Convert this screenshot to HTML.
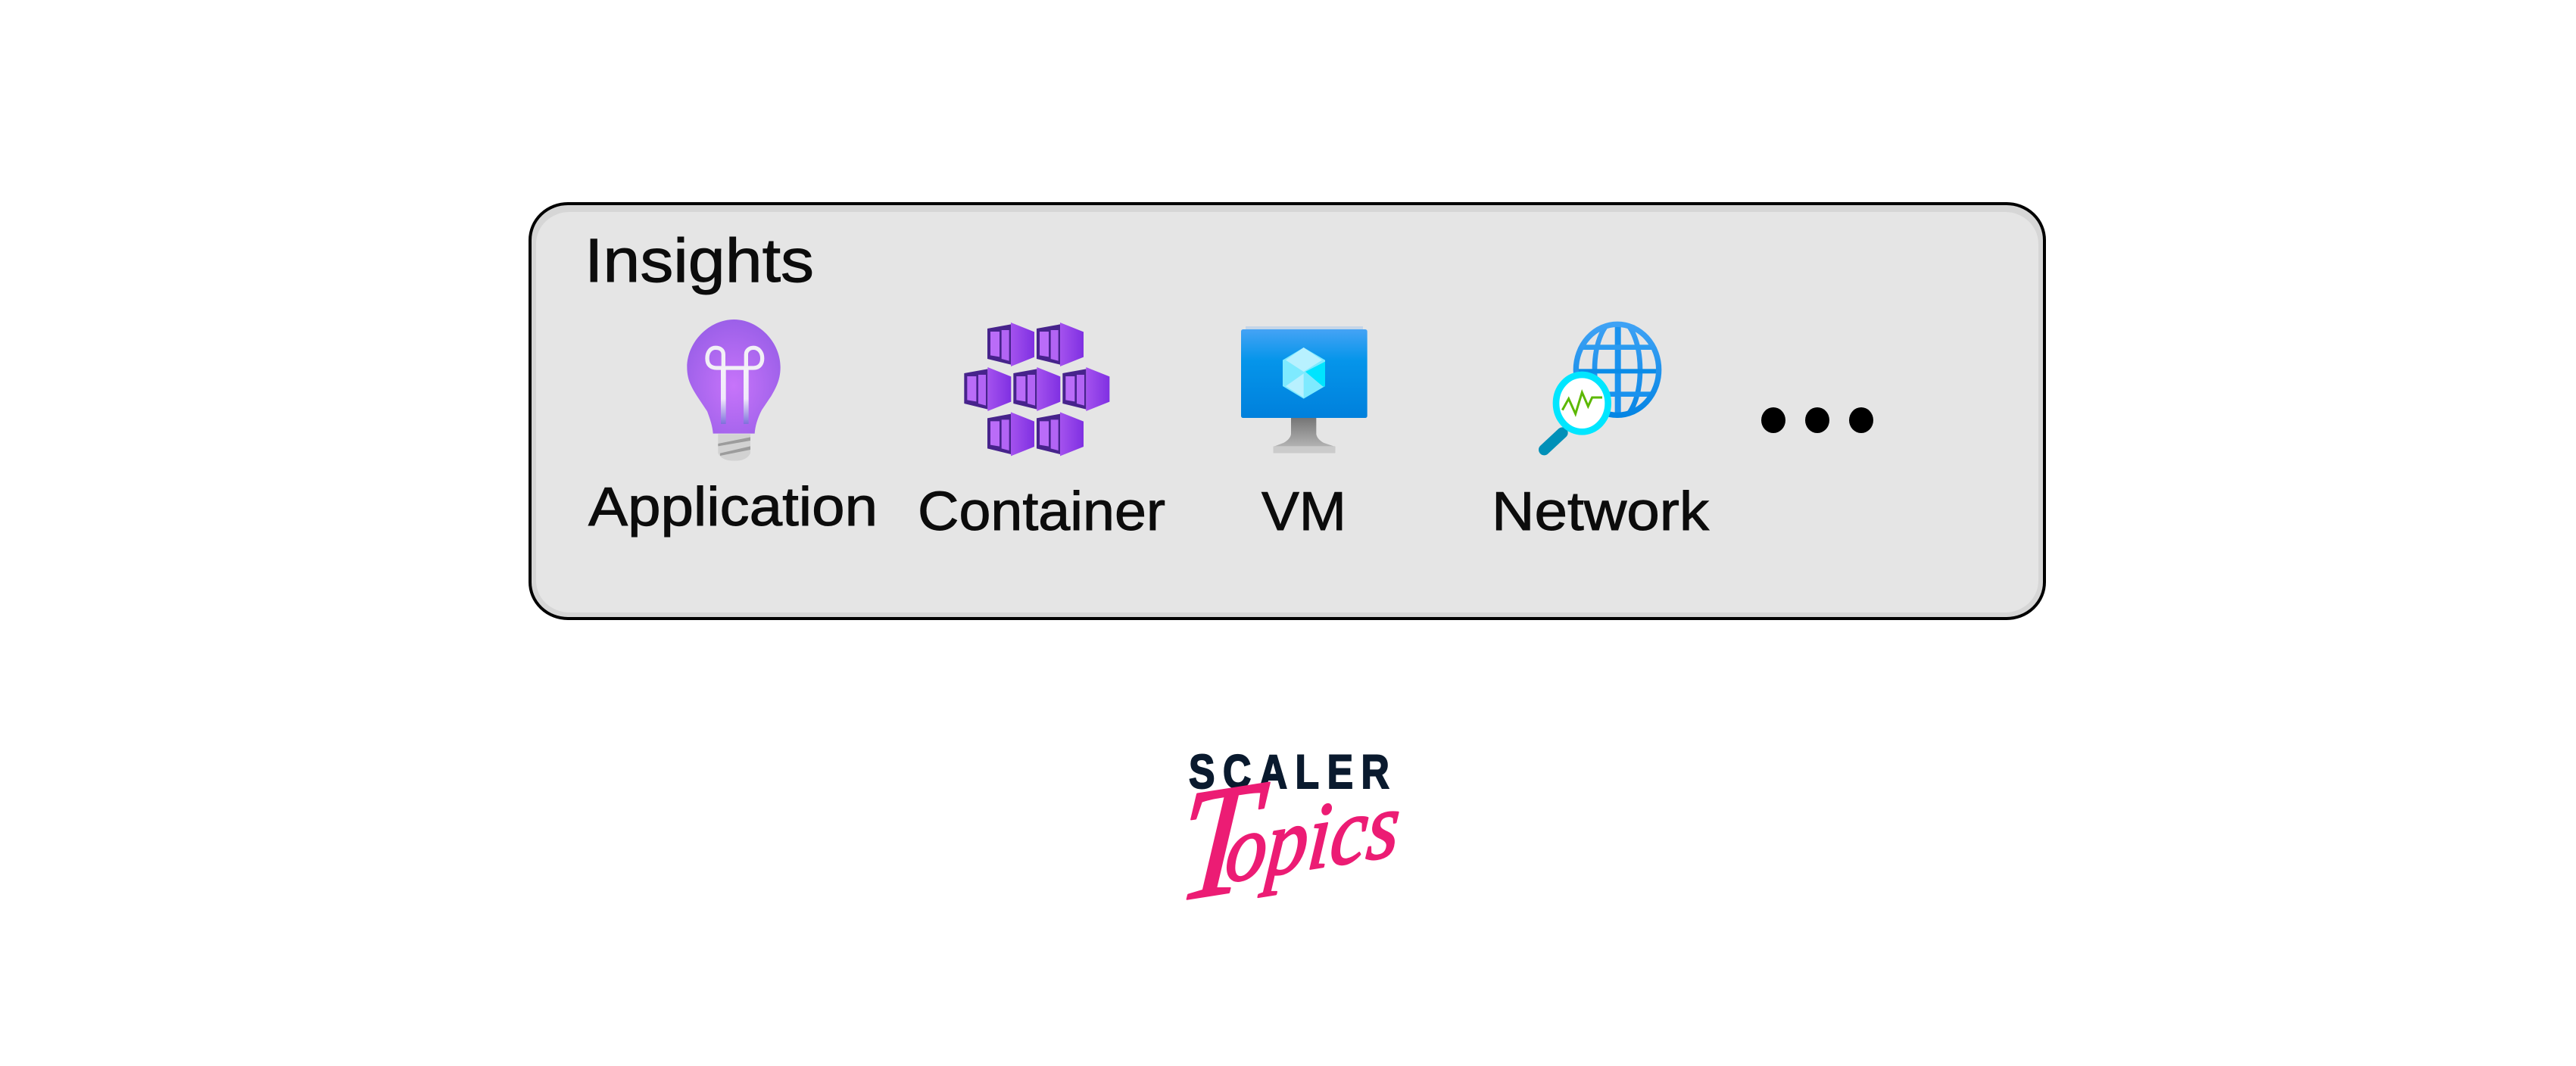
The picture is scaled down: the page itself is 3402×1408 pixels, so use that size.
<!DOCTYPE html>
<html>
<head>
<meta charset="utf-8">
<style>
html,body{margin:0;padding:0;background:#fff;width:3402px;height:1408px;overflow:hidden}
svg{display:block}
text{font-family:"Liberation Sans",sans-serif}
</style>
</head>
<body>
<svg xmlns="http://www.w3.org/2000/svg" width="3402" height="1408" viewBox="0 0 3402 1408">
<defs>
<radialGradient id="bulb" cx="50%" cy="58%" r="60%"><stop offset="0" stop-color="#c774fa"/><stop offset="1" stop-color="#9a5fe8"/></radialGradient>
<linearGradient id="fil" x1="0" y1="0" x2="0" y2="1"><stop offset="0" stop-color="#f4f2f8"/><stop offset=".55" stop-color="#f0e8fb"/><stop offset="1" stop-color="#7f70dc"/></linearGradient>
<linearGradient id="kface" x1="0" y1="0" x2="1" y2="0"><stop offset="0" stop-color="#a452ee"/><stop offset="1" stop-color="#7f30e2"/></linearGradient>
<linearGradient id="screen" x1="0" y1="0" x2="0" y2="1"><stop offset="0" stop-color="#45a3f5"/><stop offset=".35" stop-color="#0595ea"/><stop offset="1" stop-color="#0080dc"/></linearGradient>
<linearGradient id="stand" x1="0" y1="0" x2="0" y2="1"><stop offset="0" stop-color="#757575"/><stop offset="1" stop-color="#c0c0c0"/></linearGradient>
<linearGradient id="globe" x1="0" y1="0" x2="0" y2="1"><stop offset="0" stop-color="#3fa2f5"/><stop offset="1" stop-color="#0585e4"/></linearGradient>
<g id="k">
<path d="M132 72 L225 55 V215 L132 192Z" fill="#47238c"/>
<path d="M144 84 H180 V184 L144 178Z" fill="#ba6cf8"/>
<path d="M188 78 H218 V200 L188 192Z" fill="#b264f4"/>
<path d="M225 48 L318 85 V185 L225 222Z" fill="url(#kface)"/>
</g>
<clipPath id="globeClip"><ellipse cx="378" cy="235" rx="174" ry="190"/></clipPath>
</defs>

<rect width="3402" height="1408" fill="#fff"/>

<!-- Panel -->
<rect x="700" y="269" width="2000" height="548" rx="50" ry="48" fill="#d6d6d6"/>
<rect x="708" y="280" width="1984" height="529" rx="44" ry="42" fill="#e5e5e5"/>
<rect x="700" y="269" width="2000" height="548" rx="50" ry="48" fill="none" stroke="#000" stroke-width="4"/>

<!-- Labels -->
<g fill="#0c0c0c" stroke="#0c0c0c" stroke-width="1">
<text x="772" y="372" font-size="82" textLength="303" lengthAdjust="spacingAndGlyphs">Insights</text>
<text x="777" y="694" font-size="72" textLength="382" lengthAdjust="spacingAndGlyphs">Application</text>
<text x="1212" y="700" font-size="72" textLength="327" lengthAdjust="spacingAndGlyphs">Container</text>
<text x="1666" y="700" font-size="72" textLength="112" lengthAdjust="spacingAndGlyphs">VM</text>
<text x="1970" y="700" font-size="72" textLength="287" lengthAdjust="spacingAndGlyphs">Network</text>
</g>

<!-- Application bulb -->
<g transform="translate(880 410) scale(.33333)">
<path d="M205 490 H333 V565 Q320 596 270 596 Q218 596 205 565Z" fill="#d2d2d2"/>
<path d="M205 528 L333 502 V516 L205 538Z M213 566 L333 538 V552 L213 576Z" fill="#9c9c9c"/>
<path d="M268 36 C365 36 452 125 452 225 C452 275 435 305 415 340 L378 395 C360 430 352 460 350 488 H185 C183 460 175 435 162 400 L122 340 C100 305 82 275 82 225 C82 125 170 36 268 36Z" fill="url(#bulb)"/>
<g fill="none" stroke="#f2f0f6" stroke-width="16">
<path d="M226 228 V175 C226 155 210 148 195 148 C175 148 162 165 162 190 C162 215 175 228 200 228 H345 C370 228 380 210 380 190 C380 165 365 148 345 148 C330 148 316 158 316 175 V228"/>
</g>
<rect x="216" y="228" width="20" height="222" fill="url(#fil)"/>
<rect x="306" y="228" width="20" height="222" fill="url(#fil)"/>
</g>

<!-- Container cluster -->
<g transform="translate(1260 410) scale(.33333)">
<use href="#k"/>
<use href="#k" transform="translate(195 0)"/>
<use href="#k" transform="translate(-92 177)"/>
<use href="#k" transform="translate(103 177)"/>
<use href="#k" transform="translate(298 177)"/>
<use href="#k" transform="translate(0 355)"/>
<use href="#k" transform="translate(195 355)"/>
</g>

<!-- VM monitor -->
<g transform="translate(1620 410) scale(.33333)">
<path d="M255 425 H355 V490 Q358 510 385 525 L430 540 V565 H185 V540 L225 525 Q252 510 255 490Z" fill="url(#stand)"/>
<rect x="185" y="538" width="245" height="27" fill="#cbcbcb"/>
<rect x="75" y="63" width="465" height="14" fill="#c4d5e8"/>
<rect x="57" y="75" width="500" height="351" rx="8" fill="url(#screen)"/>
<path d="M305 147 L390 197 V300 L305 350 L222 300 V197Z" fill="#7eeaff"/>
<path d="M305 147 L378 197 L305 243 L234 197Z" fill="#b8f1ff"/>
<path d="M390 203 V300 L382 302 L312 243Z" fill="#00e4ff"/>
<path d="M305 250 L234 300 L305 345Z" fill="#b8f1ff"/>
</g>

<!-- Network -->
<g transform="translate(2010 410) scale(.33333)">
<g clip-path="url(#globeClip)" fill="none" stroke="url(#globe)" stroke-width="20">
<ellipse cx="378" cy="235" rx="90" ry="200"/>
</g>
<g clip-path="url(#globeClip)" fill="#1a92ee">
<rect x="368" y="40" width="24" height="390"/>
<rect x="200" y="136" width="360" height="20" fill="#2b9bf0"/>
<rect x="200" y="232" width="360" height="18" fill="#0a8ce8"/>
<rect x="200" y="322" width="360" height="20" fill="#1a92ee"/>
</g>
<ellipse cx="378" cy="235" rx="164" ry="180" fill="none" stroke="url(#globe)" stroke-width="22"/>
<path d="M160 485 L88 552" stroke="#0090b8" stroke-width="44" stroke-linecap="round" fill="none"/>
<ellipse cx="238" cy="368" rx="103" ry="113" fill="#fff" stroke="#00e6ff" stroke-width="26"/>
<polyline points="160,395 185,350 212,410 238,325 262,380 278,345 318,345" fill="none" stroke="#5cb800" stroke-width="9"/>
</g>

<!-- Ellipsis -->
<ellipse cx="2342" cy="555" rx="16" ry="17" fill="#000"/>
<ellipse cx="2400" cy="555" rx="16" ry="17" fill="#000"/>
<ellipse cx="2458" cy="555" rx="16" ry="17" fill="#000"/>

<!-- Logo -->
<g transform="translate(1570 1041) scale(.82 1)">
<text x="0" y="0" font-size="63" font-weight="700" fill="#0a1a2e" stroke="#0a1a2e" stroke-width="2" textLength="323" lengthAdjust="spacing">SCALER</text>
</g>
<g transform="translate(1552 1190) rotate(-9) skewX(-14) scale(.9 1)" fill="#ec1c74" stroke="#ec1c74" stroke-width="2.5" stroke-linejoin="round">
<text style="font-family:'Liberation Serif',serif;font-style:italic"><tspan font-size="206">T</tspan><tspan font-size="122" dx="-44" dy="-14">opics</tspan></text>
</g>
</svg>
</body>
</html>
